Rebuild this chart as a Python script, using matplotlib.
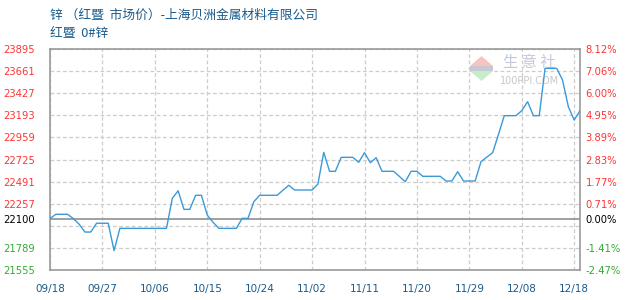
import matplotlib
matplotlib.use('Agg')
import matplotlib.pyplot as plt
from matplotlib.patches import Polygon, Rectangle

# 锌 红暨 0#锌 每日价格 (09/18 - 12/18)
prices = [22100, 22145, 22145, 22145, 22100, 22040, 21957, 21957, 22050, 22050,
          22050, 21760, 21996, 21996, 21996, 21996, 21996, 21996, 21996, 21996,
          21996, 22314, 22394, 22197, 22197, 22346, 22346, 22137, 22060, 21996,
          21996, 21996, 21996, 22102, 22102, 22278, 22346, 22346, 22346, 22346,
          22400, 22452, 22402, 22402, 22402, 22402, 22465, 22801, 22600, 22600,
          22748, 22748, 22748, 22695, 22797, 22691, 22744, 22600, 22600, 22600,
          22545, 22490, 22600, 22600, 22547, 22547, 22547, 22547, 22497, 22497,
          22596, 22497, 22497, 22497, 22702, 22750, 22797, 22990, 23189, 23189,
          23189, 23242, 23337, 23189, 23189, 23690, 23690, 23690, 23567, 23284,
          23143, 23242]
days = list(range(len(prices)))

base = 22100
grid_vals = [23895, 23661, 23427, 23193, 22959, 22725, 22491, 22257, 22023, 21789, 21555]
label_vals = [23895, 23661, 23427, 23193, 22959, 22725, 22491, 22257, 22100, 21789, 21555]
pct_labels = ['8.12%', '7.06%', '6.00%', '4.95%', '3.89%', '2.83%', '1.77%', '0.71%',
              '0.00%', '-1.41%', '-2.47%']
date_labels = ['09/18', '09/27', '10/06', '10/15', '10/24', '11/02', '11/11',
               '11/20', '11/29', '12/08', '12/18']
date_pos = [0, 9, 18, 27, 36, 45, 54, 63, 72, 81, 90]

plt.rcParams['font.family'] = ['DejaVu Sans', 'Noto Sans CJK SC']

fig = plt.figure(figsize=(6.3, 3.0), dpi=100)
ax = fig.add_axes([50 / 630, 30 / 300, 530 / 630, 221 / 300])

ax.set_xlim(0, 91)
ax.set_ylim(21555, 23895)

# grid
for v in grid_vals:
    ax.axhline(v, color='#cccccc', lw=0.9, ls=(0, (3, 2)), zorder=1)
for p in date_pos:
    ax.axvline(p, color='#cccccc', lw=0.9, ls=(0, (3, 2)), zorder=1)
ax.axhline(base, color='#999999', lw=1.3, zorder=2)

# watermark
def px(x, y):
    return ((x - 50) / 530, (270 - y) / 221)

ax.add_patch(Polygon([px(470, 66), px(493, 66), px(481.5, 56)], closed=True,
                     transform=ax.transAxes, color='#f5c4c0', lw=0, zorder=1.5))
ax.add_patch(Polygon([px(470, 71), px(493, 71), px(481.5, 81)], closed=True,
                     transform=ax.transAxes, color='#c8ebc8', lw=0, zorder=1.5))
ax.add_patch(Rectangle(px(470, 70.5), 23 / 530, 4 / 221, transform=ax.transAxes,
                       color='#c8c8d4', lw=0, zorder=1.5))
ax.text(*px(529, 63), '生 意 社', transform=ax.transAxes, ha='center', va='center',
        fontsize=11, color='#c4c8dc', family=['Noto Sans CJK SC'], zorder=1.6)
ax.text(*px(530, 81), '100PPI.COM', transform=ax.transAxes, ha='center', va='center',
        fontsize=7, color='#c8c8c8', zorder=1.6)

ax.plot(days, prices, color='#3a9ad9', lw=1.0, zorder=3)

for s in ax.spines.values():
    s.set_color('#999999')
    s.set_linewidth(1.2)

ax.set_xticks(date_pos)
ax.set_xticklabels(date_labels, fontsize=7.5, color='#1a5a8a')
ax.tick_params(axis='x', length=0, pad=10)

def col(v):
    if v > base:
        return '#ff3333'
    if v < base:
        return '#33aa33'
    return '#000000'

ax.set_yticks(label_vals)
ax.set_yticklabels([str(v) for v in label_vals], fontsize=7.2)
ax.tick_params(axis='y', length=0, pad=11)
for t, v in zip(ax.get_yticklabels(), label_vals):
    t.set_color(col(v))

ax2 = ax.twinx()
ax2.set_ylim(ax.get_ylim())
ax2.set_yticks(label_vals)
ax2.set_yticklabels(pct_labels, fontsize=7.2)
ax2.tick_params(axis='y', length=0, pad=4)
for t, v in zip(ax2.get_yticklabels(), label_vals):
    t.set_color(col(v))
for s in ax2.spines.values():
    s.set_visible(False)

fig.text(50 / 630, 1 - 15 / 300, '锌 （红暨  市场价）-上海贝洲金属材料有限公司',
         fontsize=9.2, color='#1a5a8a', va='center', family=['Noto Sans CJK SC'])
fig.text(50 / 630, 1 - 33 / 300, '红暨  0#锌', fontsize=9.2, color='#1a5a8a',
         va='center', family=['Noto Sans CJK SC', 'DejaVu Sans'])

fig.savefig('out.png', dpi=100)
